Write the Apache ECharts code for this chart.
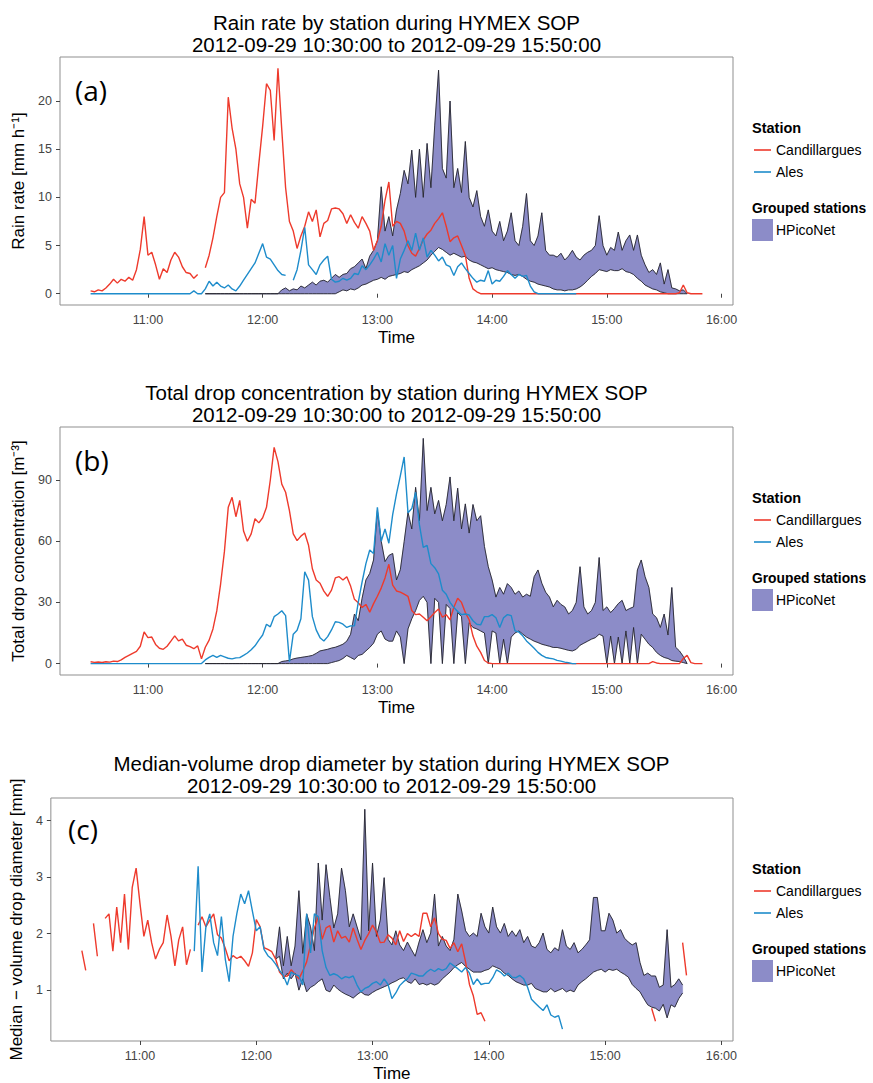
<!DOCTYPE html>
<html><head><meta charset="utf-8">
<script src="https://cdn.jsdelivr.net/npm/echarts@6/dist/echarts.min.js"></script>
<style>html,body{margin:0;padding:0;background:#fff}#c{width:873px;height:1083px}</style>
</head><body><div id="c"></div>
<script>
const _ = null;
// sampling: every 2 minutes from 10:30 (630 min after midnight) to 15:50 (950)
const TIME_START = 630, TIME_STEP = 2, N = 161;
const tickTimes = [660, 720, 780, 840, 900, 960];
const tickLabels = ['11:00', '12:00', '13:00', '14:00', '15:00', '16:00'];
const yTicksRain = [0, 5, 10, 15, 20];
const yTicksConc = [0, 30, 60, 90];
const yTicksDm = [1, 2, 3, 4];

// (a) rain rate [mm/h]
const rainCand = [0.3,0.2,0.4,0.3,0.6,1.0,1.5,1.1,1.5,1.3,
 1.7,1.4,2.5,4.6,8.0,4.0,4.3,3.0,1.5,2.6,
 2.2,3.5,4.3,3.8,2.8,2.2,2.1,1.6,2.0,_,
 2.7,4.0,5.8,8.0,10.0,10.5,20.4,17.2,15.0,11.4,
 10.0,6.8,9.8,9.4,13.5,17.4,21.8,21.1,15.9,23.4,
 17.0,11.0,7.5,6.5,4.7,6.0,7.0,8.5,7.5,8.7,
 5.9,7.3,7.6,8.8,8.9,8.8,8.3,7.3,8.2,7.4,
 6.8,8.0,7.3,6.5,4.5,5.5,7.0,9.7,11.6,7.0,
 7.5,7.3,6.5,5.0,4.2,3.9,4.7,5.6,6.2,6.6,
 7.3,7.8,8.4,7.0,5.4,5.8,6.0,5.0,4.0,1.6,
 0.5,0.2,0,0,0,0,0,0,0,0,
 0,0,0,0,0,0,0,0,0,0,
 0,0,0,0,0,0,0,0,0,0,
 0,0,0,0,0,0,0,0,0,0,
 0,0,0,0,0,0,0,0,0,0,
 0,0,0,0,0.1,0.9,0.1,0,0,0,
 0];
const rainAles = [0,0,0,0,0,0,0,0,0,0,
 0,0,0,0,0,0,0,0,0,0,
 0,0,0,0,0,0,0,0.3,0,0,
 0.5,1.3,0.8,1.2,0.8,0.6,0.9,0.5,0.3,0.8,
 1.4,2.0,2.6,3.2,4.2,5.2,3.8,3.6,3.0,2.4,
 2.0,1.9,_,1.4,2.5,4.5,6.9,3.0,2.5,2.0,
 3.0,3.5,3.9,1.5,1.2,1.3,1.6,1.4,1.6,2.1,
 2.0,2.9,2.5,3.0,3.6,4.3,3.3,5.2,4.0,5.0,
 1.6,3.6,4.5,5.5,4.5,6.3,4.5,5.8,3.8,4.5,
 4.0,3.4,3.8,3.0,2.8,1.9,2.8,3.2,2.6,2.1,
 1.6,1.2,1.4,1.3,2.4,1.0,1.4,1.3,1.8,2.4,
 2.0,1.6,2.0,1.8,1.9,0.8,0.2,0,0,0,
 0,0,0,0,0,0,0,0,_,_,
 _,_,_,_,_,_,_,_,_,_,
 _,_,_,_,_,_,_,_,_,_,
 _,_,_,_,_,_,_,_,_,_,
 _];
const rainHPicoMin = [_,_,_,_,_,_,_,_,_,_,
 _,_,_,_,_,_,_,_,_,_,
 _,_,_,_,_,_,_,_,_,_,
 0,0,0,0,0,0,0,0,0,0,
 0,0,0,0,0,0,0,0,0,0,
 0,0,0,0,0,0,0,0,0,0,
 0,0,0,0,0,0.2,0.4,0.3,0.5,0.4,
 0.6,0.9,1.0,1.2,1.4,1.5,1.7,1.5,1.8,1.9,
 2.0,2.1,2.3,2.2,2.5,2.7,2.9,3.2,3.5,4.0,
 4.4,4.8,4.6,4.3,4.0,4.2,4.0,3.8,3.9,3.5,
 3.3,3.2,3.0,2.8,2.6,2.7,2.5,2.4,2.3,2.2,
 2.0,1.9,2.0,1.8,1.5,1.3,1.2,1.0,0.9,0.8,
 0.7,0.5,0.4,0.4,0.3,0.4,0.4,0.5,0.7,1.0,
 1.4,1.8,2.1,2.5,2.4,2.3,2.5,2.4,2.4,2.6,
 2.3,2.2,2.0,1.6,1.3,0.9,0.7,0.5,0.4,0.2,
 0.1,0,0,0,0,0,0,_,_,_,
 _];
const rainHPicoMax = [_,_,_,_,_,_,_,_,_,_,
 _,_,_,_,_,_,_,_,_,_,
 _,_,_,_,_,_,_,_,_,_,
 0,0,0,0,0,0,0,0,0,0,
 0,0,0,0,0,0,0,0,0,0,
 0.4,0.6,0.3,0.5,0.4,0.8,0.6,0.9,1.2,0.9,
 1.3,1.4,1.2,1.6,2.0,1.7,2.0,2.1,2.6,2.8,
 3.2,3.6,2.6,3.9,4.5,5.5,11.1,6.5,8.0,6.0,
 8.7,10.4,12.8,11.4,14.9,10.0,15.0,10.0,15.6,11.0,
 17.5,23.2,13.0,12.0,20.0,11.0,13.0,10.5,15.8,10.0,
 9.0,10.7,8.0,7.0,8.7,6.5,6.0,7.5,5.5,6.5,
 8.4,5.5,5.0,7.0,10.4,5.5,5.0,6.0,8.4,4.5,
 4.0,4.0,3.8,4.2,3.5,3.9,4.5,3.8,3.5,4.0,
 4.3,4.5,5.0,8.1,5.0,4.0,4.8,4.5,6.4,4.5,
 5.5,6.1,4.5,6.1,4.0,3.0,2.2,2.5,2.0,3.2,
 1.0,2.5,0.6,0.5,0.3,0.4,0,_,_,_,
 _];

// (b) total drop concentration [m^-3]
const concCand = [0.9,0.6,0.8,0.5,0.9,0.7,1.2,1.0,1.8,3.0,
 4.0,5.0,6.0,8.5,15.5,12.7,13.0,9.4,7.5,7.0,
 8.5,11.0,13.6,11.1,12.0,9.0,8.3,7.3,8.7,2.3,
 8.0,11.5,17.0,25.8,39.0,55.0,76.6,81.5,72.0,80.0,
 65.0,60.0,63.6,71.0,69.0,71.5,76.6,90.0,106.0,99.0,
 88.0,84.0,75.0,63.6,60.3,62.5,64.0,58.0,46.5,41.0,
 39.4,35.5,33.0,36.0,42.0,42.6,41.0,42.6,38.0,31.5,
 29.8,27.5,29.0,25.2,29.4,33.0,37.0,42.0,48.7,38.5,
 35.6,35.0,34.0,33.0,26.0,24.0,24.3,22.7,21.0,23.0,
 25.0,26.8,22.7,24.0,21.5,27.6,32.0,30.0,25.0,21.5,
 13.5,8.5,5.5,1.5,0.3,0,0,0,0,0,
 0,0,0,0,0,0,0,0,0,0,
 0,0,0,0,0,0,0,0,0,0,
 0,0,0,0,0,0,0,0,0,0,
 0,0,0,0,0,0,0,1.0,0.3,0,
 0,0,0,0,0,2.5,4.0,0.5,0,0,
 0];
const concAles = [0,0,0,0,0,0,0,0,0,0,
 0,0,0,0,0,0,0,0,0,0,
 0,0,0,0,0,0,0,0,0,0,
 1.8,3.0,4.0,3.0,4.0,3.3,2.6,2.3,2.8,2.9,
 4.0,5.2,6.8,8.7,11.5,14.0,19.3,18.0,23.0,24.3,
 25.9,23.5,0.9,14.4,16.3,22.0,45.0,40.9,23.0,16.5,
 12.7,11.1,13.2,16.5,20.5,20.2,19.3,17.7,18.5,18.5,
 30.0,40.0,49.0,55.7,54.0,76.6,60.0,66.0,59.0,73.0,
 83.2,92.0,101.3,74.0,76.0,84.0,68.0,57.0,58.0,49.0,
 47.0,44.0,36.0,34.0,30.0,27.5,25.5,24.0,24.3,23.8,
 21.0,19.3,19.0,23.0,23.0,24.0,22.5,17.7,22.5,24.0,
 23.5,16.0,15.5,13.6,11.1,9.3,7.5,5.5,4.0,3.0,
 2.6,2.3,1.6,1.2,0.7,0.4,0,0,_,_,
 _,_,_,_,_,_,_,_,_,_,
 _,_,_,_,_,_,_,_,_,_,
 _,_,_,_,_,_,_,_,_,_,
 _];
const concHPicoMin = [_,_,_,_,_,_,_,_,_,_,
 _,_,_,_,_,_,_,_,_,_,
 _,_,_,_,_,_,_,_,_,_,
 0,0,0,0,0,0,0,0,0,0,
 0,0,0,0,0,0,0,0,0,0,
 0,0,0,0,0,0,0,0,0,0,
 0,0,0,0.5,1.0,1.5,2.5,4.0,3.0,2.0,
 4.0,4.5,6.2,7.9,10.0,14.4,16.0,12.0,11.0,11.0,
 16.0,13.0,0,17.0,22.0,26.0,31.0,33.0,30.0,0,
 32.0,30.0,0,29.0,27.0,0,25.0,23.0,0,20.0,
 17.7,17.0,16.0,15.0,0,16.0,15.0,0,12.0,0,
 13.0,15.0,16.0,14.5,13.0,12.0,11.0,10.3,9.5,9.0,
 8.5,7.9,7.9,7.5,7.0,6.5,6.2,7.0,9.0,10.0,
 11.0,12.0,12.7,14.4,13.5,0,13.5,0,13.0,0,
 16.0,0,17.7,0,14.4,12.0,9.5,7.9,5.5,4.0,
 3.0,2.5,1.5,1.2,1.0,0.5,0,_,_,_,
 _];
const concHPicoMax = [_,_,_,_,_,_,_,_,_,_,
 _,_,_,_,_,_,_,_,_,_,
 _,_,_,_,_,_,_,_,_,_,
 0,0,0,0,0,0,0,0,0,0,
 0,0,0,0,0,0,0,0,0,0,
 1.0,1.3,1.6,2.3,2.7,3.0,3.3,3.6,4.0,5.0,
 6.2,6.6,7.0,7.6,8.0,8.7,9.5,11.0,14.4,24.3,
 21.0,32.0,41.0,44.2,50.8,75.0,60.0,50.0,53.0,54.0,
 41.0,46.0,59.8,74.2,66.0,86.4,70.0,110.4,75.0,86.4,
 73.4,80.0,70.0,78.0,91.5,70.0,86.0,66.0,78.3,64.0,
 78.0,70.0,72.5,57.4,47.5,41.0,32.6,37.3,34.0,39.2,
 37.3,34.0,35.6,32.6,34.0,33.0,42.6,45.9,39.4,35.0,
 32.6,27.8,31.0,29.0,27.8,24.3,26.0,30.0,47.5,27.8,
 24.3,26.0,30.0,52.0,26.0,27.8,25.0,27.0,29.4,31.0,
 26.0,27.0,27.8,45.9,50.8,42.6,37.3,24.3,22.5,17.7,
 24.3,14.0,37.3,8.0,6.2,3.5,0,_,_,_,
 _];

// (c) median-volume drop diameter [mm]
const dmCand = [1.7,1.35,_,2.18,1.6,_,2.27,2.35,1.69,2.47,
 1.84,2.7,1.72,2.82,3.16,2.53,1.95,2.24,1.84,1.55,
 1.72,1.84,2.33,1.95,1.43,1.89,2.12,1.45,1.72,_,
 2.15,2.30,2.12,2.24,2.35,1.98,1.92,1.74,1.52,1.61,
 1.56,1.60,1.52,1.42,1.66,2.25,2.12,1.75,1.72,1.68,
 1.55,1.32,1.24,1.25,1.36,1.28,1.20,1.34,1.50,1.80,
 2.10,2.30,1.90,2.10,2.14,1.85,2.05,1.92,1.95,1.85,
 2.10,1.90,1.72,1.88,2.00,2.15,2.03,1.84,1.85,1.98,
 1.92,1.80,2.05,1.86,2.00,1.95,2.00,1.95,2.36,2.36,
 2.12,2.28,2.00,1.90,1.88,1.74,1.84,1.68,1.82,1.50,
 1.10,0.90,0.57,0.60,0.45,_,_,_,_,_,
 _,_,_,_,_,_,_,_,_,_,
 _,_,_,_,_,_,_,_,_,_,
 _,_,_,_,_,_,_,_,_,_,
 _,_,_,_,_,_,_,0.68,0.45,_,
 _,_,_,_,_,1.84,1.26,_,_,_,
 _];
const dmAles = [_,_,_,_,_,_,_,_,_,_,
 _,_,_,_,_,_,_,_,_,_,
 _,_,_,_,_,_,_,_,_,1.69,
 3.19,1.32,2.12,2.35,1.84,1.61,2.30,1.55,1.15,1.95,
 2.36,2.70,2.53,2.76,2.40,2.05,2.12,1.72,1.61,1.55,
 1.46,1.35,1.26,1.09,1.32,1.28,1.25,1.09,2.35,1.66,
 2.35,2.30,1.70,1.40,1.26,1.29,1.26,1.20,1.24,1.22,
 1.25,1.09,0.97,1.03,1.06,1.12,1.15,1.09,1.20,1.10,
 0.85,0.95,1.08,1.15,1.20,1.30,1.28,1.25,1.25,1.32,
 1.37,1.33,1.38,1.35,1.38,1.48,1.43,1.38,1.32,1.40,
 1.30,1.10,1.20,1.10,1.12,1.12,1.22,1.36,1.32,1.25,
 1.30,1.23,1.22,1.26,1.20,1.05,0.84,0.77,0.70,0.64,
 0.74,0.56,0.52,0.55,0.31,_,_,_,_,_,
 _,_,_,_,_,_,_,_,_,_,
 _,_,_,_,_,_,_,_,_,_,
 _,_,_,_,_,_,_,_,_,_,
 _];
const dmHPicoMin = [_,_,_,_,_,_,_,_,_,_,
 _,_,_,_,_,_,_,_,_,_,
 _,_,_,_,_,_,_,_,_,_,
 _,_,_,_,_,_,_,_,_,_,
 _,_,_,_,_,_,_,_,_,_,
 1.55,1.60,1.20,1.30,1.20,1.30,1.00,1.20,0.97,1.05,
 1.09,1.15,1.20,1.00,0.97,1.09,1.02,0.97,0.93,0.90,
 0.86,0.92,0.97,0.92,0.91,0.96,1.00,1.03,1.06,1.09,
 1.13,1.16,1.20,1.22,1.15,1.12,1.20,1.10,1.12,1.09,
 1.12,1.09,1.12,1.20,1.26,1.32,1.40,1.45,1.49,1.42,
 1.37,1.32,1.32,1.32,1.35,1.37,1.43,1.40,1.37,1.30,
 1.26,1.20,1.15,1.12,1.09,1.09,1.12,1.03,1.00,0.97,
 0.97,1.03,0.97,1.00,1.03,0.97,1.00,0.97,1.09,1.15,
 1.20,1.26,1.32,1.35,1.37,1.32,1.37,1.35,1.37,1.32,
 1.28,1.23,1.10,1.03,0.97,0.85,0.74,0.70,0.68,0.63,
 0.75,0.51,0.74,0.70,0.85,0.95,_,_,_,_,
 _];
const dmHPicoMax = [_,_,_,_,_,_,_,_,_,_,
 _,_,_,_,_,_,_,_,_,_,
 _,_,_,_,_,_,_,_,_,_,
 _,_,_,_,_,_,_,_,_,_,
 _,_,_,_,_,_,_,_,_,_,
 1.55,2.12,1.43,1.95,1.43,1.78,2.76,1.65,2.35,2.12,
 1.70,3.25,2.24,3.22,2.64,2.10,2.35,3.16,2.76,2.12,
 2.35,2.12,1.89,4.20,2.05,3.25,1.95,2.24,2.99,1.90,
 1.80,2.05,1.80,1.70,1.85,1.72,1.60,1.85,2.07,1.84,
 2.01,2.70,1.78,1.95,1.78,1.70,1.90,2.70,2.40,2.05,
 1.95,2.01,1.95,2.36,2.12,2.01,2.47,2.12,2.01,2.18,
 1.95,2.05,1.95,2.07,1.84,1.95,1.78,1.75,1.84,2.01,
 1.72,1.66,1.75,1.70,2.07,1.78,1.72,1.84,1.66,1.72,
 1.80,1.89,2.64,2.64,2.05,2.05,2.36,2.24,2.01,2.07,
 1.92,1.85,1.80,1.84,1.49,1.26,1.30,1.25,1.25,1.05,
 1.09,2.07,1.05,1.10,1.20,1.09,_,_,_,_,
 _];

[rainCand,rainAles,rainHPicoMin,rainHPicoMax,concCand,concAles,concHPicoMin,concHPicoMax,
 dmCand,dmAles,dmHPicoMin,dmHPicoMax].forEach((a,k)=>{ if(a.length!==N) throw new Error('array '+k+' has length '+a.length); });

const RED = '#EE3A2C', BLUE = '#1E8CCB', BAND = '#8C8CC8', OUTLINE = '#26262C';
const FONT = '"Liberation Sans", Arial, Helvetica, sans-serif';
const times = [];
for (let i = 0; i < N; i++) times.push(TIME_START + i * TIME_STEP);
const pairs = arr => times.map((t, i) => [t, arr[i]]);
// contiguous runs where both band bounds exist: [time at start, lower at start, start index, end index]
function bandRuns(lo, hi) {
  const runs = []; let s = -1;
  for (let i = 0; i <= N; i++) {
    const ok = i < N && lo[i] != null && hi[i] != null;
    if (ok && s < 0) s = i;
    if (!ok && s >= 0) { runs.push([times[s], lo[s], s, i - 1]); s = -1; }
  }
  return runs;
}

const panels = [
  {left:60, top:57, width:673, height:248, ymin:-1.17, ymax:24.57, yticks:yTicksRain, yname:'Rain rate [mm h\u207B\u00B9]', nameGap:28,
   title:'Rain rate by station during HYMEX SOP', tag:'(a)', cand:rainCand, ales:rainAles, lo:rainHPicoMin, hi:rainHPicoMax},
  {left:60, top:427, width:673, height:248, ymin:-5.6, ymax:116, yticks:yTicksConc, yname:'Total drop concentration [m\u207B\u00B3]', nameGap:28,
   title:'Total drop concentration by station during HYMEX SOP', tag:'(b)', cand:concCand, ales:concAles, lo:concHPicoMin, hi:concHPicoMax},
  {left:50, top:798, width:683, height:249, ymin:0.1, ymax:4.4, yticks:yTicksDm, yname:'Median \u2212 volume drop diameter [mm]', nameGap:22,
   title:'Median-volume drop diameter by station during HYMEX SOP', tag:'(c)', cand:dmCand, ales:dmAles, lo:dmHPicoMin, hi:dmHPicoMax}
];
const subtitle = '2012-09-29 10:30:00 to 2012-09-29 15:50:00';

const grid = [], xAxis = [], yAxis = [], series = [], graphic = [];
panels.forEach((p, k) => {
  grid.push({left:p.left, top:p.top, width:p.width, height:p.height, show:true, borderColor:'#8f8f8f', borderWidth:1, backgroundColor:'#fff', containLabel:false});
  xAxis.push({type:'value', gridIndex:k, min:614, max:966, name:'Time', nameLocation:'middle', nameGap:24,
    nameTextStyle:{fontSize:17, color:'#000', fontFamily:FONT},
    axisLine:{show:false}, splitLine:{show:false},
    axisTick:{show:true, customValues:tickTimes, length:4, lineStyle:{color:'#444'}},
    axisLabel:{customValues:tickTimes, formatter:v => tickLabels[tickTimes.indexOf(v)], fontSize:12.5, color:'#444', margin:8, fontFamily:FONT}});
  yAxis.push({type:'value', gridIndex:k, min:p.ymin, max:p.ymax, name:p.yname, nameLocation:'middle', nameGap:p.nameGap,
    nameTextStyle:{fontSize:17, color:'#000', fontFamily:FONT},
    axisLine:{show:false}, splitLine:{show:false},
    axisTick:{show:true, customValues:p.yticks, length:4, lineStyle:{color:'#444'}},
    axisLabel:{customValues:p.yticks, fontSize:12.5, color:'#444', margin:8, fontFamily:FONT}});
  const common = {type:'line', xAxisIndex:k, yAxisIndex:k, symbol:'none', showSymbol:false, silent:true, connectNulls:false};
  const lo = p.lo, hi = p.hi;
  series.push({type:'custom', name:'HPicoNet', xAxisIndex:k, yAxisIndex:k, silent:true, clip:true, z:1,
    encode:{x:0, y:1}, data:bandRuns(lo, hi),
    renderItem:(params, api) => {
      const s = api.value(2), e = api.value(3), pts = [];
      for (let i = s; i <= e; i++) pts.push(api.coord([times[i], hi[i]]));
      for (let i = e; i >= s; i--) pts.push(api.coord([times[i], lo[i]]));
      return {type:'polygon', shape:{points:pts}, style:{fill:BAND, stroke:BAND, lineWidth:0.5}};
    }});
  series.push(Object.assign({}, common, {name:'HPicoNet min', data:pairs(lo), lineStyle:{color:OUTLINE, width:0.9}, z:2}));
  series.push(Object.assign({}, common, {name:'HPicoNet max', data:pairs(hi), lineStyle:{color:OUTLINE, width:0.9}, z:2}));
  series.push(Object.assign({}, common, {name:'Candillargues', data:pairs(p.cand), lineStyle:{color:RED, width:1.4}, z:3}));
  series.push(Object.assign({}, common, {name:'Ales', data:pairs(p.ales), lineStyle:{color:BLUE, width:1.4}, z:4}));

  const cx = p.left + p.width / 2;
  const t0 = p.top - 35;
  const txt = (x, y, s, font, align, color) => ({type:'text', x:x, y:y, silent:true, z:100,
    style:{text:s, font:font, fill:color || '#000', align:align || 'left', verticalAlign:'middle', textAlign:align || 'left', textVerticalAlign:'middle'}});
  graphic.push(txt(cx, t0, p.title, '20.5px ' + FONT, 'center'));
  graphic.push(txt(cx, t0 + 22, subtitle, '20.5px ' + FONT, 'center'));
  graphic.push(txt(p.left + (k === 2 ? 18 : 15), p.top + (k === 2 ? 31 : 33), p.tag, '28px "Open Sans"', 'left'));
  const ly = p.top + 71;
  graphic.push(txt(752, ly, 'Station', 'bold 14.5px ' + FONT));
  graphic.push({type:'line', silent:true, shape:{x1:754, y1:ly + 22, x2:771, y2:ly + 22}, style:{stroke:RED, lineWidth:1.6}});
  graphic.push(txt(776, ly + 22, 'Candillargues', '14px ' + FONT));
  graphic.push({type:'line', silent:true, shape:{x1:754, y1:ly + 44, x2:771, y2:ly + 44}, style:{stroke:BLUE, lineWidth:1.6}});
  graphic.push(txt(776, ly + 44, 'Ales', '14px ' + FONT));
  graphic.push(txt(752, ly + 80, 'Grouped stations', 'bold 13.8px ' + FONT));
  graphic.push({type:'rect', silent:true, shape:{x:752, y:ly + 91, width:21, height:22}, style:{fill:BAND}});
  graphic.push(txt(776, ly + 102, 'HPicoNet', '14px ' + FONT));
});

const chart = echarts.init(document.getElementById('c'), null, {renderer:'svg', width:873, height:1083});
chart.setOption({animation:false, backgroundColor:'#fff', grid, xAxis, yAxis, series, graphic});
</script></body></html>
